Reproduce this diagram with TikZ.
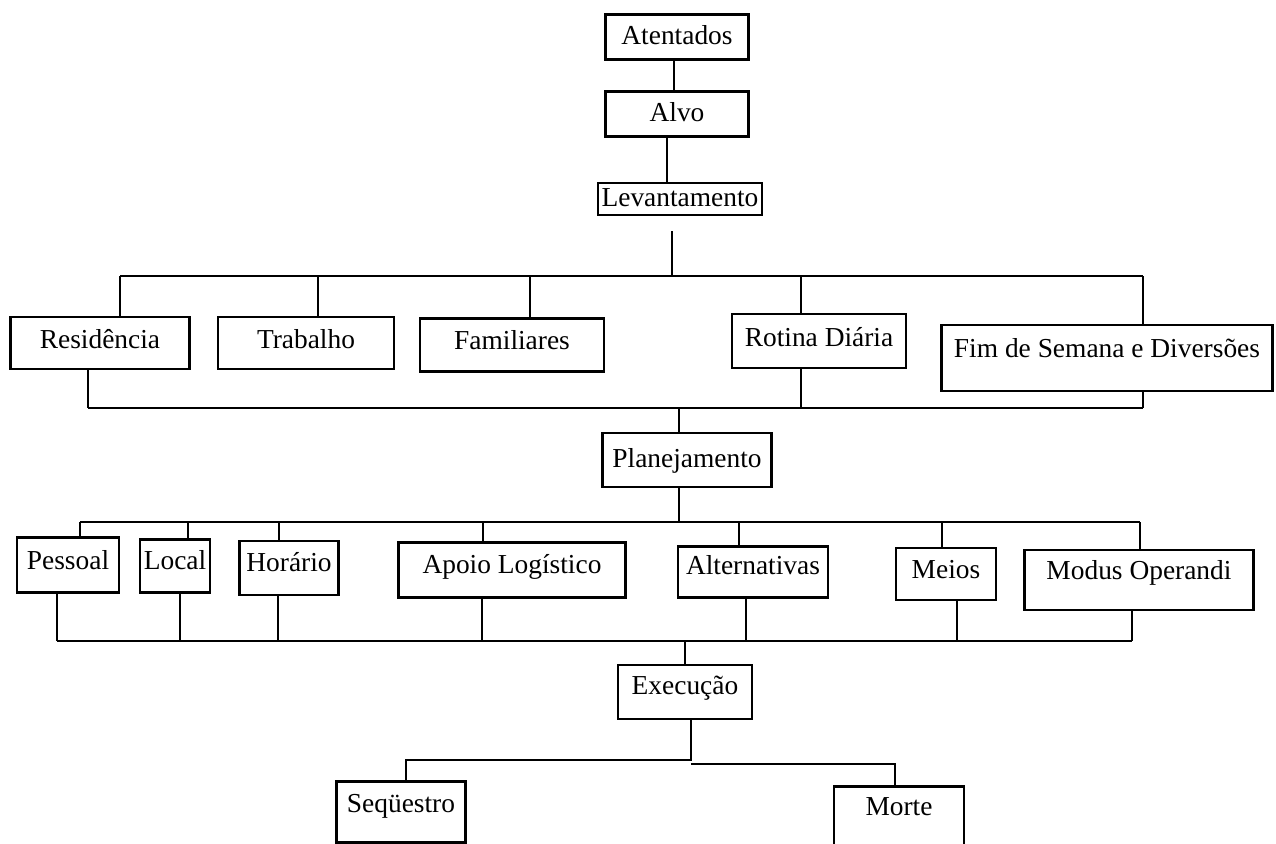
\documentclass[tikz,border=0pt]{standalone}
\usepackage{fontspec}
\setmainfont{Liberation Serif}
\newdimen\pxu \pxu=0.015cm
\begin{document}
\begin{tikzpicture}[x=0.015cm, y=-0.015cm, line width=0.9pt,
        font=\fontsize{11.7}{14}\selectfont,
        bx/.style n args={3}{draw, inner xsep=0pt, inner ysep=0pt,
            minimum width=#1\pxu, text height=#2\pxu, text depth=#3\pxu}]
            \useasboundingbox (0,0) rectangle (1276,844);
            \clip (0,0) rectangle (1276,844);
            % top of the tree
            \node[bx={143}{30}{15}] (aten) at (677,37) {Atentados};
            \node[bx={143}{30}{15}] (alvo) at (677,114) {Alvo};
            \node[bx={164}{24}{8}] (lev) at (680,199) {Levantamento};
            \draw (aten.south -| 674,0) -- (alvo.north -| 674,0);
            \draw (alvo.south -| 667,0) -- (lev.north -| 667,0);
            % levantamento
            \node[bx={179}{31}{21}] (res) at (100,343) {Residência};
            \node[bx={176}{31}{21}] (trab) at (306,343) {Trabalho};
            \node[bx={184}{31}{22}] (fam) at (512,345) {Familiares};
            \node[bx={174}{32}{22}] (rot) at (819,341) {Rotina Diária};
            \node[bx={331}{32}{34}] (fim) at (1107,358) {Fim de Semana e Diversões};
            \draw (lev.south -| 672,0) ++(0,15) -- (672,276);
            \draw (120,276) -- (1143,276);
            \foreach \n/\x in {res/120, trab/318, fam/530, rot/801, fim/1143}
                \draw (\x,276) -- (\n.north -| \x,0);
            \foreach \n/\x in {res/88, rot/801, fim/1143}
                \draw (\n.south -| \x,0) -- (\x,408);
            \draw (88,408) -- (1143,408);
            % planejamento
            \node[bx={169}{34}{20}] (plan) at (687,460) {Planejamento};
            \draw (679,408) -- (plan.north -| 679,0);
            \node[bx={102}{32}{23}] (pes) at (68,565) {Pessoal};
            \node[bx={70}{30}{23}] (loc) at (175,566) {Local};
            \node[bx={99}{30}{24}] (hor) at (289,568) {Horário};
            \node[bx={227}{31}{24}] (apo) at (512,570) {Apoio Logístico};
            \node[bx={150}{28}{23}] (alt) at (753,572) {Alternativas};
            \node[bx={100}{30}{22}] (mei) at (946,574) {Meios};
            \node[bx={229}{29}{31}] (mod) at (1139,580) {Modus Operandi};
            \draw (plan.south -| 679,0) -- (679,522);
            \draw (80,522) -- (1140,522);
            \foreach \n/\x in {pes/80, loc/188, hor/279, apo/483, alt/739, mei/942, mod/1140}
                \draw (\x,522) -- (\n.north -| \x,0);
            \foreach \n/\x in {pes/57, loc/180, hor/278, apo/482, alt/746, mei/957, mod/1132}
                \draw (\n.south -| \x,0) -- (\x,641);
            \draw (57,641) -- (1132,641);
            % execucao
            \node[bx={134}{29}{25}] (exe) at (685,692) {Execução};
            \node[bx={129}{31}{30}] (seq) at (401,812) {Seqüestro};
            \node[bx={130}{29}{54}] (mor) at (899,828) {Morte};
            \draw (685,641) -- (exe.north -| 685,0);
            \draw (exe.south -| 691,0) -- (691,760) -| (seq.north -| 406,0);
            \draw (691,764) -| (mor.north -| 895,0);
        \end{tikzpicture}
\end{document}
